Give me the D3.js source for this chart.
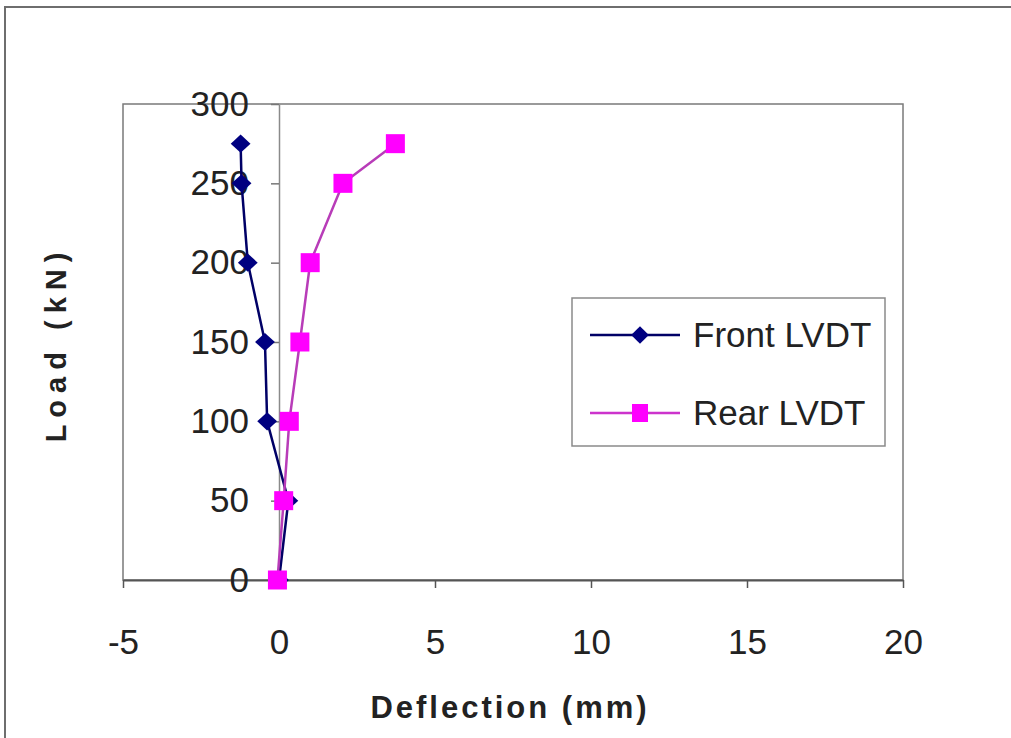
<!DOCTYPE html>
<html>
<head>
<meta charset="utf-8">
<script src="https://cdn.jsdelivr.net/npm/d3@7"></script>
<style>
  body { margin: 0; background: #fff; }
  text { font-family: "Liberation Sans", Arial, sans-serif; fill: #222; }
</style>
</head>
<body>
<div id="chart"></div>
<script>
const loads = [0, 50, 100, 150, 200, 250, 275];
const frontDefl = [0, 0.3, -0.38, -0.45, -1.0, -1.2, -1.23];
const rearDefl = [-0.05, 0.15, 0.33, 0.67, 1.0, 2.05, 3.73];
const xTicks = [-5, 0, 5, 10, 15, 20];
const yTicks = [0, 50, 100, 150, 200, 250, 300];
const seriesNames = ["Front LVDT", "Rear LVDT"];

const W = 1011, H = 738;
const margin = { top: 104, right: 108, bottom: 158, left: 123 },
      width = W - margin.left - margin.right,
      height = H - margin.top - margin.bottom;

const svg = d3.select("#chart")
  .append("svg")
  .attr("width", W)
  .attr("height", H);

// outer chart border
svg.append("path")
  .attr("d", `M5,${H} L5,7 L${W},7`)
  .attr("fill", "none")
  .attr("stroke", "#6e6e6e")
  .attr("stroke-width", 2);

const g = svg.append("g")
  .attr("transform", `translate(${margin.left},${margin.top})`);

const x = d3.scaleLinear().domain([-5, 20]).range([0, width]);
const y = d3.scaleLinear().domain([0, 300]).range([height, 0]);

// plot frame
g.append("rect")
  .attr("width", width)
  .attr("height", height)
  .attr("fill", "none")
  .attr("stroke", "#7a7a7a")
  .attr("stroke-width", 1.5);

// x axis
const xAxis = g.append("g")
  .attr("transform", `translate(0,${y(0)})`)
  .call(d3.axisBottom(x).tickValues(xTicks).tickFormat(d => String(d))
        .tickSizeInner(8).tickSizeOuter(0).tickPadding(41));
xAxis.select(".domain").attr("stroke", "#555").attr("stroke-width", 2);
xAxis.selectAll(".tick line").attr("stroke", "#555").attr("stroke-width", 1.5);
xAxis.selectAll("text").style("font-size", "35px").attr("fill", "#222");

// y axis, crossing at x = 0
const yAxis = g.append("g")
  .attr("transform", `translate(${x(0)},0)`)
  .call(d3.axisLeft(y).tickValues(yTicks).tickFormat(d => String(d))
        .tickSizeInner(8).tickSizeOuter(0).tickPadding(22));
yAxis.select(".domain").attr("stroke", "#8a8a8a").attr("stroke-width", 1.5);
yAxis.selectAll(".tick line").attr("stroke", "#777").attr("stroke-width", 1.5);
yAxis.selectAll("text").style("font-size", "35px").attr("fill", "#222");

// axis titles
svg.append("text")
  .attr("x", margin.left + width / 2 - 3)
  .attr("y", 718)
  .attr("text-anchor", "middle")
  .style("font-size", "31px")
  .style("font-weight", "bold")
  .style("letter-spacing", "3px")
  .text("Deflection (mm)");

svg.append("text")
  .attr("transform", "translate(66,344) rotate(-90)")
  .attr("text-anchor", "middle")
  .style("font-size", "29px")
  .style("font-weight", "bold")
  .style("letter-spacing", "7px")
  .text("Load (kN)");

const line = d3.line()
  .x(d => x(d[0]))
  .y(d => y(d[1]));

const front = loads.map((l, i) => [frontDefl[i], l]);
const rear = loads.map((l, i) => [rearDefl[i], l]);

// front series
g.append("path")
  .datum(front)
  .attr("d", line)
  .attr("fill", "none")
  .attr("stroke", "#000066")
  .attr("stroke-width", 2.5);

// rear series
g.append("path")
  .datum(rear)
  .attr("d", line)
  .attr("fill", "none")
  .attr("stroke", "#b83cb8")
  .attr("stroke-width", 2.5);

g.selectAll("rect.rearPt")
  .data(rear)
  .join("rect")
  .attr("class", "rearPt")
  .attr("x", d => x(d[0]) - 9.5)
  .attr("y", d => y(d[1]) - 9.5)
  .attr("width", 19)
  .attr("height", 19)
  .attr("fill", "#ff00ff");

const diamond = d3.symbol().type(d3.symbolDiamond2).size(250);
g.selectAll("path.frontPt")
  .data(front)
  .join("path")
  .attr("class", "frontPt")
  .attr("d", diamond)
  .attr("transform", d => `translate(${x(d[0])},${y(d[1])}) scale(1,0.92)`)
  .attr("fill", "#000080");

// rear markers sit on top at the low end, as in the reference
g.selectAll("rect.rearPt").filter(d => d[1] <= 50).raise();

// legend
const legend = svg.append("g");
legend.append("rect")
  .attr("x", 572).attr("y", 298)
  .attr("width", 313).attr("height", 148)
  .attr("fill", "#fff")
  .attr("stroke", "#8a8a8a")
  .attr("stroke-width", 1.5);

const legendRows = [
  { name: seriesNames[0], y: 335, color: "#000066", marker: "diamond" },
  { name: seriesNames[1], y: 413, color: "#cc33cc", marker: "square" }
];

legendRows.forEach(r => {
  legend.append("line")
    .attr("x1", 590).attr("x2", 680)
    .attr("y1", r.y).attr("y2", r.y)
    .attr("stroke", r.color)
    .attr("stroke-width", 2.5);
  if (r.marker === "diamond") {
    legend.append("path")
      .attr("d", d3.symbol().type(d3.symbolDiamond2).size(200))
      .attr("transform", `translate(640,${r.y})`)
      .attr("fill", "#000080");
  } else {
    legend.append("rect")
      .attr("x", 632).attr("y", r.y - 9)
      .attr("width", 16).attr("height", 18)
      .attr("fill", "#ff00ff");
  }
  legend.append("text")
    .attr("x", 693)
    .attr("y", r.y + 12)
    .style("font-size", "35px")
    .text(r.name);
});
</script>
</body>
</html>
